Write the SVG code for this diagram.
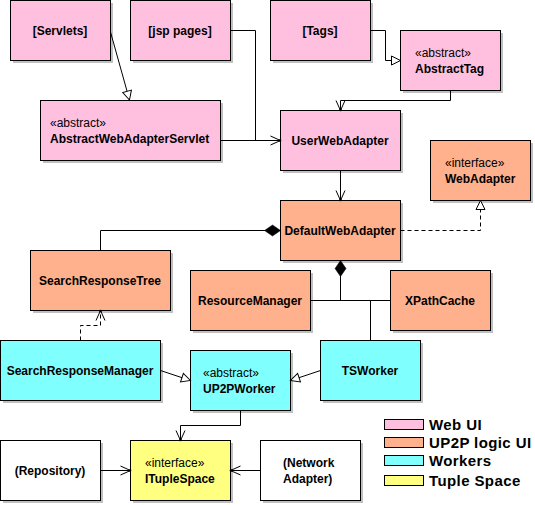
<svg xmlns="http://www.w3.org/2000/svg" width="535" height="505" viewBox="0 0 535 505">
<style>
.sh{fill:#c0c0c0}
.box{stroke:#000;stroke-width:1}
.web{fill:#ffc0e0}
.logic{fill:#ffb08c}
.work{fill:#80ffff}
.tuple{fill:#ffff80}
.plain{fill:#fff}
text{font-family:"Liberation Sans",Arial,sans-serif;font-size:12px;font-weight:bold;fill:#000}
.c{text-anchor:middle}
.st{font-weight:normal}
.lg{font-size:15px;letter-spacing:0.4px}
.ln{fill:none;stroke:#000;stroke-width:1}
.dash{stroke-dasharray:4,3}
</style>
<defs>
<marker id="open" markerUnits="userSpaceOnUse" viewBox="-12 -6 14 12" refX="0" refY="0" markerWidth="14" markerHeight="12" orient="auto">
<path d="M-10,-4.5 L0,0 L-10,4.5" fill="none" stroke="#000" stroke-width="1"/>
<circle cx="-0.5" cy="0" r="1.3" fill="#000"/>
</marker>
<marker id="tri" markerUnits="userSpaceOnUse" viewBox="-11 -6 12 12" refX="0" refY="0" markerWidth="12" markerHeight="12" orient="auto">
<path d="M0,0 L-9,-4.5 L-9,4.5 Z" fill="#fff" stroke="#000" stroke-width="1"/>
</marker>
<marker id="dia" markerUnits="userSpaceOnUse" viewBox="-18 -7 19 14" refX="0" refY="0" markerWidth="19" markerHeight="14" orient="auto-start-reverse">
<path d="M0,0 L-8,-5.5 L-16,0 L-8,5.5 Z" fill="#000" stroke="#000" stroke-width="0.5"/>
</marker>
</defs>

<g id="servlets"><rect class="sh" x="13" y="3" width="100" height="60"/><rect class="box web" x="10.5" y="0.5" width="100" height="60"/><text class="c" x="60" y="35">[Servlets]</text></g>
<g id="jsp-pages"><rect class="sh" x="133" y="3" width="100" height="60"/><rect class="box web" x="130.5" y="0.5" width="100" height="60"/><text class="c" x="180" y="35">[jsp pages]</text></g>
<g id="tags"><rect class="sh" x="273" y="3" width="100" height="60"/><rect class="box web" x="270.5" y="0.5" width="100" height="60"/><text class="c" x="320" y="35">[Tags]</text></g>
<g id="abstract-tag"><rect class="sh" x="403" y="33" width="100" height="60"/><rect class="box web" x="400.5" y="30.5" width="100" height="60"/><text class="st" x="415" y="57">«abstract»</text><text x="415" y="73">AbstractTag</text></g>
<g id="abstract-web-adapter-servlet"><rect class="sh" x="43" y="103" width="180" height="60"/><rect class="box web" x="40.5" y="100.5" width="180" height="60"/><text class="st" x="50" y="127">«abstract»</text><text x="50" y="143">AbstractWebAdapterServlet</text></g>
<g id="user-web-adapter"><rect class="sh" x="283" y="113" width="120" height="60"/><rect class="box web" x="280.5" y="110.5" width="120" height="60"/><text class="c" x="340" y="145">UserWebAdapter</text></g>
<g id="web-adapter"><rect class="sh" x="433" y="143" width="100" height="60"/><rect class="box logic" x="430.5" y="140.5" width="100" height="60"/><text class="st" x="445" y="167">«interface»</text><text x="445" y="183">WebAdapter</text></g>
<g id="default-web-adapter"><rect class="sh" x="283" y="203" width="120" height="60"/><rect class="box logic" x="280.5" y="200.5" width="120" height="60"/><text class="c" x="340" y="235">DefaultWebAdapter</text></g>
<g id="search-response-tree"><rect class="sh" x="33" y="253" width="140" height="60"/><rect class="box logic" x="30.5" y="250.5" width="140" height="60"/><text class="c" x="100" y="285">SearchResponseTree</text></g>
<g id="resource-manager"><rect class="sh" x="193" y="273" width="120" height="60"/><rect class="box logic" x="190.5" y="270.5" width="120" height="60"/><text class="c" x="250" y="305">ResourceManager</text></g>
<g id="xpath-cache"><rect class="sh" x="393" y="273" width="100" height="60"/><rect class="box logic" x="390.5" y="270.5" width="100" height="60"/><text class="c" x="440" y="305">XPathCache</text></g>
<g id="search-response-manager"><rect class="sh" x="3" y="343" width="160" height="60"/><rect class="box work" x="0.5" y="340.5" width="160" height="60"/><text class="c" x="80" y="375">SearchResponseManager</text></g>
<g id="up2p-worker"><rect class="sh" x="193" y="353" width="100" height="60"/><rect class="box work" x="190.5" y="350.5" width="100" height="60"/><text class="st" x="203" y="377">«abstract»</text><text x="203" y="393">UP2PWorker</text></g>
<g id="ts-worker"><rect class="sh" x="323" y="343" width="100" height="60"/><rect class="box work" x="320.5" y="340.5" width="100" height="60"/><text class="c" x="370" y="375">TSWorker</text></g>
<g id="repository"><rect class="sh" x="3" y="443" width="100" height="60"/><rect class="box plain" x="0.5" y="440.5" width="100" height="60"/><text class="c" x="50" y="475">(Repository)</text></g>
<g id="ituple-space"><rect class="sh" x="133" y="443" width="100" height="60"/><rect class="box tuple" x="130.5" y="440.5" width="100" height="60"/><text class="st" x="145" y="467">«interface»</text><text x="145" y="483">ITupleSpace</text></g>
<g id="network-adapter"><rect class="sh" x="263" y="443" width="100" height="60"/><rect class="box plain" x="260.5" y="440.5" width="100" height="60"/><text x="283" y="467">(Network</text><text x="283" y="483">Adapter)</text></g>

<g id="connectors">
<path class="ln" d="M110.5,32 L129.5,100" marker-end="url(#tri)"/>
<path class="ln" d="M230.5,30.5 H255.5 V140.5"/>
<path class="ln" d="M220.5,140.5 H280.5" marker-end="url(#open)"/>
<path class="ln" d="M370.5,30.5 H385.5 V60.5 H400.5" marker-end="url(#tri)"/>
<path class="ln" d="M450.5,90.5 V100.5 H340.5 V110.5" marker-end="url(#open)"/>
<path class="ln" d="M340.5,170.5 V200.5" marker-end="url(#open)"/>
<path class="ln dash" d="M400.5,230.5 H480.5 V200.5" marker-end="url(#tri)"/>
<path class="ln" d="M280.5,230.5 H100.5 V250.5" marker-start="url(#dia)"/>
<path class="ln" d="M340.5,260.5 V300.5" marker-start="url(#dia)"/>
<path class="ln" d="M310.5,300.5 H390.5"/>
<path class="ln" d="M370.5,300.5 V340.5"/>
<path class="ln dash" d="M80.5,340.5 V325.5 H100.5 V310.5" marker-end="url(#open)"/>
<path class="ln" d="M160.5,370.5 L190.5,380.5" marker-end="url(#tri)"/>
<path class="ln" d="M320.5,370.5 L290.5,380.5" marker-end="url(#tri)"/>
<path class="ln" d="M240.5,410.5 V425.5 H180.5 V440.5" marker-end="url(#open)"/>
<path class="ln" d="M100.5,470.5 H130.5" marker-end="url(#open)"/>
<path class="ln" d="M260.5,470.5 H230.5" marker-end="url(#open)"/>
</g>

<g id="legend">
<rect class="box web" x="384.5" y="419.5" width="39" height="10"/><text class="lg" x="429" y="430">Web UI</text>
<rect class="box logic" x="384.5" y="437.5" width="39" height="10"/><text class="lg" x="429" y="448">UP2P logic UI</text>
<rect class="box work" x="384.5" y="455.5" width="39" height="10"/><text class="lg" x="429" y="466">Workers</text>
<rect class="box tuple" x="384.5" y="475.5" width="39" height="10"/><text class="lg" x="429" y="486">Tuple Space</text>
</g>
</svg>
